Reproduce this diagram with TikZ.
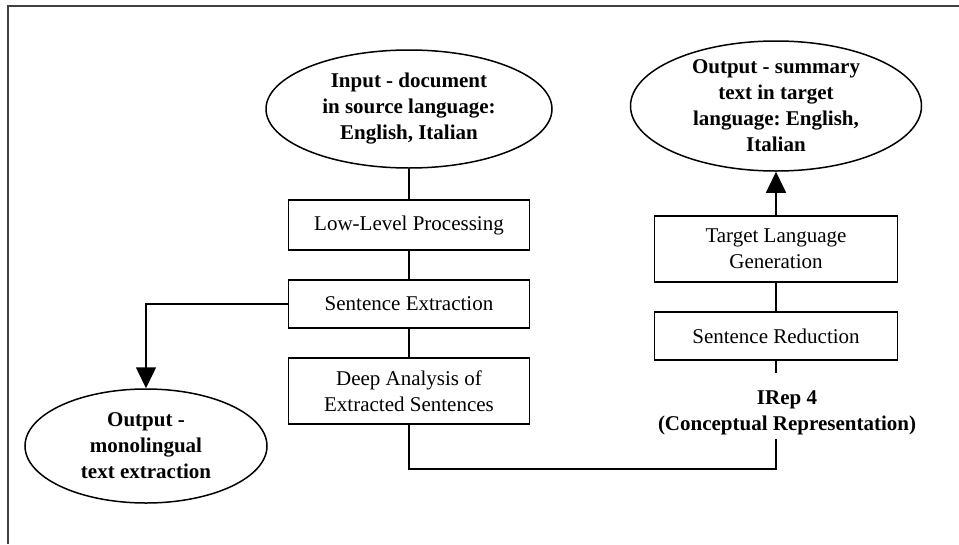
\documentclass[tikz,border=0pt]{standalone}
\usepackage{fontspec}
\setmainfont{Liberation Serif}
\usetikzlibrary{shapes.geometric,arrows.meta}
\frenchspacing

\begin{document}
\begin{tikzpicture}[x=1pt, y=-1pt, line width=1.5pt,
  font=\fontsize{21}{26}\selectfont,
  stage/.style={draw, rectangle, minimum width=241pt, align=center, inner sep=0pt},
  goal/.style={draw, ellipse, align=center, inner sep=0pt,
    font=\fontsize{21}{26}\selectfont\bfseries},
  flow/.style={-{Triangle[width=20pt,length=21pt]}}]

  \newcommand\colA{409};
  \newcommand\colB{776};

  \useasboundingbox (0,0) rectangle (959,544);
  \draw[black!75] (959,6) -- (8,6) -- (8,544);

  % left column
  \node[goal, minimum width=286pt, minimum height=118pt] (input) at (\colA,109)
    {Input - document\\in source language:\\English, Italian};
  \node[stage, minimum height=50pt] (lowlevel) at (\colA,225) {Low-Level Processing};
  \node[stage, minimum height=48pt] (extract) at (\colA,304) {Sentence Extraction};
  \node[stage, minimum height=66pt] (deep) at (\colA,391)
    {Deep Analysis of\\Extracted Sentences};
  \node[goal, minimum width=242pt, minimum height=114pt] (mono) at (146,446)
    {Output -\\monolingual\\text extraction};

  % right column
  \node[goal, minimum width=291pt, minimum height=130pt, inner ysep=-6pt] (summary) at (\colB,106)
    {Output - summary\\text in target\\language: English,\\Italian};
  \node[stage, minimum width=243pt, minimum height=66pt] (target) at (\colB,249)
    {Target Language\\Generation};
  \node[stage, minimum width=243pt, minimum height=48pt] (reduce) at (\colB,336)
    {Sentence Reduction};
  \node[align=center, inner sep=0pt, font=\fontsize{21}{26}\selectfont\bfseries] (irep) at (787,413)
    {IRep 4\\(Conceptual Representation)};
  \coordinate (stub) at (\colB,373);
  \coordinate (rep) at (\colB,439);
  \coordinate (low) at (\colB,469);

  \draw (input) -- (lowlevel);
  \draw (lowlevel) -- (extract);
  \draw (extract) -- (deep);
  \draw[flow] (extract) -| (mono);
  \draw (deep) |- (low) -- (rep);
  \draw (reduce) -- (stub);
  \draw (reduce) -- (target);
  \draw[flow] (target) -- (summary);

\end{tikzpicture}
\end{document}
